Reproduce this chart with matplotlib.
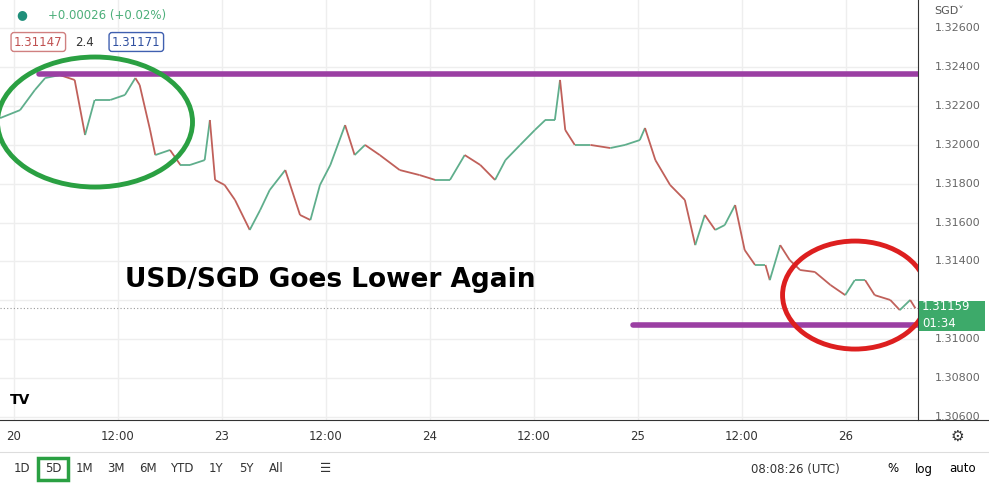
import matplotlib
matplotlib.use("Agg")
import matplotlib.pyplot as plt
from matplotlib.collections import LineCollection
from matplotlib.patches import Ellipse, FancyBboxPatch
import numpy as np

hours = [-1.6,0.7,2.4,3.6,5.3,7.0,8.2,9.3,11.1,12.8,14.0,14.5,15.7,16.3,18.0,19.2,20.3,22.0,22.6,23.2,24.3,25.5,27.2,28.4,29.5,31.3,33.0,34.2,35.3,36.5,38.2,39.3,40.5,42.2,44.5,46.8,48.6,50.3,52.0,53.8,55.5,56.7,58.4,60.1,61.3,62.4,63.0,63.6,64.7,66.5,68.8,70.5,72.2,72.8,74.0,75.7,77.4,78.6,79.7,80.9,82.0,83.2,84.3,85.5,86.7,87.2,88.4,89.5,90.7,92.4,94.2,95.9,97.0,98.2,99.3,101.1,102.2,103.4,104.0]
prices = [1.32137,1.32178,1.32281,1.32343,1.32358,1.32333,1.32050,1.32230,1.32230,1.32256,1.32343,1.32307,1.32076,1.31947,1.31973,1.31896,1.31896,1.31921,1.32127,1.31819,1.31793,1.31716,1.31562,1.31664,1.31767,1.31870,1.31639,1.31613,1.31793,1.31896,1.32101,1.31947,1.31999,1.31947,1.31870,1.31844,1.31819,1.31819,1.31947,1.31896,1.31819,1.31921,1.31999,1.32076,1.32127,1.32127,1.32333,1.32076,1.31999,1.31999,1.31983,1.31999,1.32024,1.32086,1.31921,1.31793,1.31716,1.31484,1.31639,1.31562,1.31587,1.31690,1.31459,1.31382,1.31382,1.31304,1.31484,1.31407,1.31356,1.31346,1.31279,1.31227,1.31304,1.31304,1.31227,1.31202,1.31150,1.31202,1.31159]
n = min(len(hours), len(prices))
hours, prices = hours[:n], prices[:n]
y_ticks = [1.306,1.308,1.310,1.312,1.314,1.316,1.318,1.320,1.322,1.324,1.326]
x_ticks = [0,12,24,36,48,60,72,84,96]
x_labels = ["20","12:00","23","12:00","24","12:00","25","12:00","26"]
resistance = 1.32364
support = 1.31073
last_price = 1.31159

fig = plt.figure(figsize=(9.89,4.84), dpi=100)
ax = fig.add_axes([0, 1-420/484, 918/989, 420/484])
ax.set_xlim(-1.615, 104.3)
ax.set_ylim(1.30585, 1.32744)
for t in x_ticks: ax.axvline(t, color="#eeeeee", lw=1, zorder=0)
for t in y_ticks: ax.axhline(t, color="#eeeeee", lw=1, zorder=0)

pts = np.column_stack([hours, prices])
segs = np.stack([pts[:-1], pts[1:]], axis=1)
cols = ["#5fae8c" if b >= a else "#c0605a" for a, b in zip(prices[:-1], prices[1:])]
ax.add_collection(LineCollection(segs, colors=cols, lw=1.3, zorder=2))

ax.plot([2.9, 104.3], [resistance]*2, color="#9b3fa3", lw=4, solid_capstyle="round", zorder=3)
ax.plot([71.4, 104.3], [support]*2, color="#9b3fa3", lw=4, solid_capstyle="round", zorder=3)
ax.axhline(last_price, color="#999999", lw=0.8, ls=(0,(1,2)), zorder=1)

sx = 208/24; sy = 19450
ax.add_patch(Ellipse((95/sx-1.615, 1.326-(122-28)/sy), 195/sx, 130/sy, fill=False, ec="#2aa042", lw=3.5, zorder=4))
ax.add_patch(Ellipse((855/sx-1.615, 1.326-(295-28)/sy), 145/sx, 108/sy, fill=False, ec="#dd1f1f", lw=3.5, zorder=4))

ax.text(125/sx-1.615, 1.326-(280-28)/sy, "USD/SGD Goes Lower Again", fontsize=19, fontweight="bold", va="center", ha="left", zorder=5)
ax.set_xticks([]); ax.set_yticks([])
for s in ["top","left","bottom"]: ax.spines[s].set_visible(False)
ax.spines["right"].set_color("#333333")

for t in y_ticks:
    if abs(t - 1.312) < 1e-6:
        continue
    ax.text(1.018, (t-1.30585)/(1.32744-1.30585), f"{t:.5f}", transform=ax.transAxes, fontsize=8, color="#666666", va="center", clip_on=False)
ax.text(1.018, 0.975, "SGD\u02c5", transform=ax.transAxes, fontsize=8, color="#555555", va="center")
fig.patches.append(FancyBboxPatch((919/989, 1-331/484), 66/989, 30/484, boxstyle="square,pad=0", fc="#3daa6a", ec="none", transform=fig.transFigure))
fig.text(922/989, 1-310/484, "1.31159", color="white", fontsize=8.5)
fig.text(922/989, 1-327/484, "01:34", color="white", fontsize=8.5)

for t, l in zip(x_ticks, x_labels):
    fig.text((14+t*sx)/989, 1-436/484, l, fontsize=8.5, color="#333333", ha="center", va="center")
fig.add_artist(plt.Line2D([0, 1], [1-420/484]*2, color="#333333", lw=0.8))
fig.add_artist(plt.Line2D([0, 1], [1-452/484]*2, color="#dddddd", lw=0.8))
fig.text(957/989, 1-436/484, "\u2699", fontsize=11, ha="center", va="center", color="#333333")
xs = [22,53,84,116,148,182,216,246,276]
for xx, lab in zip(xs, ["1D","5D","1M","3M","6M","YTD","1Y","5Y","All"]):
    fig.text(xx/989, 1-469/484, lab, fontsize=8.5, ha="center", va="center", color="#333333")
fig.patches.append(FancyBboxPatch((38/989, 1-480/484), 30/989, 22/484, boxstyle="square,pad=0", fc="none", ec="#2aa042", lw=2.5, transform=fig.transFigure))
fig.text(326/989, 1-469/484, "\u2630", fontsize=9, ha="center", va="center", color="#333333")
fig.text(795/989, 1-469/484, "08:08:26 (UTC)", fontsize=8.5, ha="center", va="center", color="#333333")
fig.text(893/989, 1-469/484, "%", fontsize=8.5, ha="center", va="center")
fig.text(924/989, 1-469/484, "log", fontsize=8.5, ha="center", va="center")
fig.text(963/989, 1-469/484, "auto", fontsize=8.5, ha="center", va="center")

fig.text(22/989, 1-15/484, "\u25cf", fontsize=9, color="#1f8f7a", ha="center", va="center")
fig.text(48/989, 1-15/484, "+0.00026 (+0.02%)", fontsize=8.5, color="#4caf7a", va="center")
fig.text(14/989, 1-42/484, "1.31147", fontsize=8.5, color="#c05050", va="center",
         bbox=dict(boxstyle="round,pad=0.25", fc="white", ec="#d08080"))
fig.text(75/989, 1-42/484, "2.4", fontsize=8.5, color="#333333", va="center")
fig.text(112/989, 1-42/484, "1.31171", fontsize=8.5, color="#3050a0", va="center",
         bbox=dict(boxstyle="round,pad=0.25", fc="white", ec="#4060b0"))
fig.text(20/989, 1-400/484, "TV", fontsize=10, fontweight="bold", ha="center", va="center")
fig.savefig("out.png", dpi=100)
